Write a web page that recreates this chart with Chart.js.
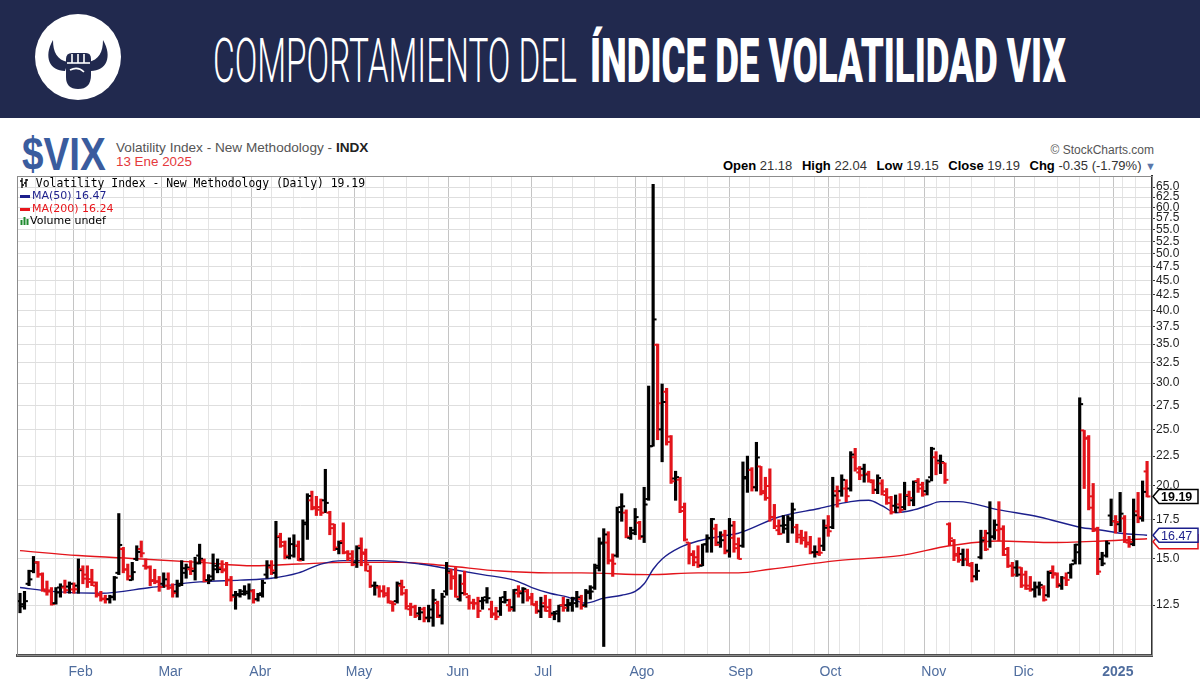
<!DOCTYPE html>
<html>
<head>
<meta charset="utf-8">
<script src="https://cdn.jsdelivr.net/npm/chart.js@4.4.1/dist/chart.umd.min.js"></script>
<style>
  html, body { margin: 0; padding: 0; background: #fff; }
  body { width: 1200px; height: 693px; position: relative; overflow: hidden; font-family: "Liberation Sans", Arial, sans-serif; }
  #banner { position: absolute; left: 0; top: 0; width: 1200px; height: 118px; background: #21294e; }
  #logo { position: absolute; left: 34px; top: 13px; }
  .title { position: absolute; top: 30px; font-family: Roboto, sans-serif; font-size: 62px; line-height: 62px; color: #fff; white-space: nowrap; transform-origin: 0 0; }
  #t1 { left: 213px; font-weight: 300; }
  #t2 { left: 590px; font-weight: 900; }
  #sym { position: absolute; left: 22px; top: 131px; font: bold 46px/46px "Liberation Sans", Arial, sans-serif; color: #3a5c9e; white-space: nowrap; transform-origin: 0 0; }
  #desc { position: absolute; left: 116px; top: 141px; font-size: 13.6px; line-height: 14px; color: #555; white-space: nowrap; }
  #desc b { color: #222; }
  #dt { position: absolute; left: 116px; top: 155px; font-size: 13.4px; line-height: 14px; color: #e5393c; white-space: nowrap; }
  #copy { position: absolute; right: 46px; top: 144px; font-size: 12px; line-height: 12px; color: #555; white-space: nowrap; }
  #ohlc { position: absolute; right: 44px; top: 159px; font-size: 13px; line-height: 13px; color: #333; white-space: nowrap; }
  #ohlc b { color: #000; margin-left: 6px; }
  #ohlc .tri { color: #5a77aa; font-size: 11px; }
  #chartBox { position: absolute; left: 0; top: 170px; width: 1200px; height: 523px; }
  .leg { position: absolute; left: 20px; font-family: "DejaVu Sans", sans-serif; font-size: 11px; line-height: 12px; white-space: nowrap; }
  #leg1 { top: 177px; font-family: "DejaVu Sans Mono", monospace; font-size: 11.4px; color: #000; }
  #leg2 { top: 190px; color: #1c1f8c; }
  #leg3 { top: 203px; color: #e8151b; }
  #leg4 { top: 215px; color: #000; }
  .sw { display: inline-block; width: 10px; height: 3px; vertical-align: middle; margin-right: 2px; }
</style>
</head>
<body>
<div id="banner">
  <svg id="logo" width="88" height="88" viewBox="0 0 88 88">
    <circle cx="44" cy="44" r="43" fill="#fff"/>
    <path d="M31 58 C16 58 9 44 19 27 C19 39 23 47 34 49 Z" fill="#21294e"/>
    <path d="M57 58 C72 58 79 44 69 27 C69 39 65 47 54 49 Z" fill="#21294e"/>
    <path d="M32 46 Q32 40 38 40 L52 40 Q57 40 57 46 L57 62 Q57 76 44 76 Q32 76 32 64 Z" fill="#21294e"/>
    <g stroke="#fff" stroke-width="1.6" fill="none">
      <path d="M38 41 V50 M44 41 V50 M50 41 V50"/>
      <path d="M33 50 H56"/>
      <path d="M36 57 Q44 53 50 59"/>
    </g>
  </svg>
  <div id="t1" class="title">COMPORTAMIENTO DEL</div>
  <div id="t2" class="title">ÍNDICE DE VOLATILIDAD VIX</div>
</div>

<div id="sym">$VIX</div>
<div id="desc">Volatility Index - New Methodology - <b>INDX</b></div>
<div id="dt">13 Ene 2025</div>
<div id="copy">© StockCharts.com</div>
<div id="ohlc"></div>

<div id="chartBox"><canvas id="c" width="1200" height="523"></canvas></div>

<div id="leg1" class="leg"><svg width="9" height="10" style="vertical-align:-1px"><path d="M2 0V10M0 3H2M2 7H4M6 1V9M4 5H6M6 2H8" stroke="#000" stroke-width="1.3" fill="none"/></svg> Volatility Index - New Methodology (Daily) <span id="lastC"></span></div>
<div id="leg2" class="leg"><span class="sw" style="background:#1c1f8c"></span>MA(50) <span id="lastM50"></span></div>
<div id="leg3" class="leg"><span class="sw" style="background:#e8151b"></span>MA(200) <span id="lastM200"></span></div>
<div id="leg4" class="leg"><svg width="10" height="9" style="vertical-align:-1px"><path d="M1.5 9V4M4.5 9V1M7.5 9V3" stroke="#1f8a2e" stroke-width="2" fill="none"/></svg>Volume undef</div>

<script>
// trading days shown
const dates = [
  "2024-01-11","2024-01-12","2024-01-16","2024-01-17","2024-01-18","2024-01-19","2024-01-22","2024-01-23","2024-01-24","2024-01-25","2024-01-26","2024-01-29","2024-01-30","2024-01-31",
  "2024-02-01","2024-02-02","2024-02-05","2024-02-06","2024-02-07","2024-02-08","2024-02-09","2024-02-12","2024-02-13","2024-02-14","2024-02-15","2024-02-16","2024-02-20","2024-02-21","2024-02-22","2024-02-23","2024-02-26","2024-02-27","2024-02-28","2024-02-29",
  "2024-03-01","2024-03-04","2024-03-05","2024-03-06","2024-03-07","2024-03-08","2024-03-11","2024-03-12","2024-03-13","2024-03-14","2024-03-15","2024-03-18","2024-03-19","2024-03-20","2024-03-21","2024-03-22","2024-03-25","2024-03-26","2024-03-27","2024-03-28",
  "2024-04-01","2024-04-02","2024-04-03","2024-04-04","2024-04-05","2024-04-08","2024-04-09","2024-04-10","2024-04-11","2024-04-12","2024-04-15","2024-04-16","2024-04-17","2024-04-18","2024-04-19","2024-04-22","2024-04-23","2024-04-24","2024-04-25","2024-04-26","2024-04-29","2024-04-30",
  "2024-05-01","2024-05-02","2024-05-03","2024-05-06","2024-05-07","2024-05-08","2024-05-09","2024-05-10","2024-05-13","2024-05-14","2024-05-15","2024-05-16","2024-05-17","2024-05-20","2024-05-21","2024-05-22","2024-05-23","2024-05-24","2024-05-28","2024-05-29","2024-05-30","2024-05-31",
  "2024-06-03","2024-06-04","2024-06-05","2024-06-06","2024-06-07","2024-06-10","2024-06-11","2024-06-12","2024-06-13","2024-06-14","2024-06-17","2024-06-18","2024-06-20","2024-06-21","2024-06-24","2024-06-25","2024-06-26","2024-06-27","2024-06-28",
  "2024-07-01","2024-07-02","2024-07-03","2024-07-05","2024-07-08","2024-07-09","2024-07-10","2024-07-11","2024-07-12","2024-07-15","2024-07-16","2024-07-17","2024-07-18","2024-07-19","2024-07-22","2024-07-23","2024-07-24","2024-07-25","2024-07-26","2024-07-29","2024-07-30","2024-07-31",
  "2024-08-01","2024-08-02","2024-08-05","2024-08-06","2024-08-07","2024-08-08","2024-08-09","2024-08-12","2024-08-13","2024-08-14","2024-08-15","2024-08-16","2024-08-19","2024-08-20","2024-08-21","2024-08-22","2024-08-23","2024-08-26","2024-08-27","2024-08-28","2024-08-29","2024-08-30",
  "2024-09-03","2024-09-04","2024-09-05","2024-09-06","2024-09-09","2024-09-10","2024-09-11","2024-09-12","2024-09-13","2024-09-16","2024-09-17","2024-09-18","2024-09-19","2024-09-20","2024-09-23","2024-09-24","2024-09-25","2024-09-26","2024-09-27","2024-09-30",
  "2024-10-01","2024-10-02","2024-10-03","2024-10-04","2024-10-07","2024-10-08","2024-10-09","2024-10-10","2024-10-11","2024-10-14","2024-10-15","2024-10-16","2024-10-17","2024-10-18","2024-10-21","2024-10-22","2024-10-23","2024-10-24","2024-10-25","2024-10-28","2024-10-29","2024-10-30","2024-10-31",
  "2024-11-01","2024-11-04","2024-11-05","2024-11-06","2024-11-07","2024-11-08","2024-11-11","2024-11-12","2024-11-13","2024-11-14","2024-11-15","2024-11-18","2024-11-19","2024-11-20","2024-11-21","2024-11-22","2024-11-25","2024-11-26","2024-11-27","2024-11-29",
  "2024-12-02","2024-12-03","2024-12-04","2024-12-05","2024-12-06","2024-12-09","2024-12-10","2024-12-11","2024-12-12","2024-12-13","2024-12-16","2024-12-17","2024-12-18","2024-12-19","2024-12-20","2024-12-23","2024-12-24","2024-12-26","2024-12-27","2024-12-30","2024-12-31",
  "2025-01-02","2025-01-03","2025-01-06","2025-01-07","2025-01-08","2025-01-10","2025-01-13"
];

const opens = [
  12.70,12.55,13.60,14.30,14.80,14.10,13.20,13.25,12.60,13.40,13.40,13.45,13.30,13.50,
  14.40,14.10,13.70,13.50,13.00,12.80,12.80,12.90,14.20,15.60,14.40,13.80,15.00,15.60,14.60,14.50,13.80,13.70,13.60,13.50,
  13.40,13.20,13.60,14.20,14.40,14.30,15.20,14.90,13.80,14.00,14.60,14.50,14.40,13.80,13.00,13.00,13.20,13.10,13.20,12.80,
  13.10,14.10,14.50,14.20,16.40,15.80,15.10,15.90,15.80,15.00,17.20,18.90,18.30,18.40,18.90,18.00,17.20,15.60,16.10,15.40,15.30,14.80,
  15.80,15.30,14.30,13.50,13.40,13.20,13.10,12.60,12.70,13.50,13.10,12.30,12.40,12.10,12.30,11.90,11.90,12.60,12.00,13.20,14.20,13.90,
  12.80,13.60,12.90,12.60,12.60,12.70,12.90,12.30,12.10,12.20,12.90,12.50,12.40,13.10,13.10,13.20,12.90,12.50,12.20,
  12.60,12.40,12.10,12.20,12.50,12.50,12.60,12.60,12.80,12.50,13.20,13.40,14.60,16.00,16.00,14.90,15.20,18.40,18.00,16.30,16.80,17.30,
  16.40,19.00,23.40,34.90,25.00,29.00,24.30,20.60,20.50,18.40,16.00,15.30,15.10,14.60,15.90,16.30,16.90,16.00,16.50,15.50,16.30,15.90,
  15.80,20.60,21.30,19.90,21.60,19.60,20.00,17.70,16.80,17.10,16.90,17.50,17.00,16.50,16.30,16.00,15.40,15.30,15.80,17.10,
  17.00,19.60,19.60,19.80,19.80,22.40,21.10,21.40,21.00,20.30,19.70,20.20,19.30,18.70,18.50,18.60,18.40,19.30,18.90,20.40,20.10,19.60,20.70,
  22.40,22.10,21.90,17.20,16.10,15.30,15.30,15.00,14.60,14.00,15.10,16.30,16.60,16.40,16.80,16.90,15.60,14.60,14.50,14.50,
  14.10,13.50,13.30,13.40,13.40,13.00,14.30,14.10,13.50,13.90,14.20,14.90,15.40,24.90,24.20,19.20,16.90,15.00,15.20,17.80,17.40,
  17.20,17.60,16.00,15.90,18.10,17.60,21.18
];

const highs = [
  13.10,13.20,14.35,15.15,14.85,14.20,13.75,13.40,13.40,13.60,13.80,13.70,13.65,15.00,
  14.60,14.60,14.40,13.70,13.20,13.00,13.00,14.00,17.94,15.70,14.70,14.80,15.80,16.10,15.00,14.60,14.40,14.00,14.20,14.20,
  13.60,13.80,14.90,14.70,14.90,15.10,15.90,15.00,14.10,15.30,15.00,14.90,14.80,14.00,13.20,13.30,13.50,13.60,13.30,13.10,
  13.80,14.90,14.90,17.40,16.60,16.10,16.30,16.50,16.10,17.50,19.40,19.60,19.20,19.00,21.36,18.10,17.20,16.10,17.30,15.50,15.50,15.80,
  16.30,15.60,14.60,13.70,13.50,13.50,13.40,12.70,13.70,13.80,13.30,12.60,12.50,12.40,12.40,12.50,13.30,12.70,13.10,14.80,14.40,14.50,
  14.10,14.30,13.00,12.80,12.90,12.90,13.40,12.70,12.40,12.90,13.20,12.80,13.30,13.50,13.40,13.30,13.10,12.70,12.90,
  13.00,12.80,12.20,12.50,12.90,12.80,12.90,13.20,13.00,13.30,13.50,14.70,16.30,16.90,16.70,15.30,18.40,19.40,18.20,17.00,18.30,17.40,
  19.90,29.66,65.73,35.00,29.90,29.40,24.40,21.20,20.70,18.70,16.00,15.50,15.80,15.90,16.50,17.60,17.20,16.70,16.80,17.60,17.40,16.30,
  21.99,22.50,21.50,23.76,21.60,20.70,21.40,18.60,17.50,17.80,17.80,18.70,17.20,16.80,16.70,16.40,15.80,16.30,17.50,17.80,
  20.70,20.00,20.90,20.50,22.90,23.20,21.60,21.80,21.20,20.50,20.90,20.50,19.80,19.20,19.30,19.40,20.30,19.60,20.40,20.60,20.30,20.50,23.30,
  22.90,22.60,21.90,17.30,16.20,15.70,15.60,15.60,14.80,14.70,16.80,16.80,18.80,17.50,18.80,17.10,15.70,14.80,14.90,14.50,
  14.30,14.00,13.70,13.70,13.50,14.30,14.60,14.20,14.00,14.20,14.70,15.90,28.32,24.90,24.40,20.20,17.00,15.40,16.10,19.00,17.80,
  19.50,17.80,16.40,19.00,19.50,20.40,22.04
];

const lows = [
  12.13,12.30,13.50,14.20,13.95,13.20,13.00,12.50,12.55,12.90,13.10,13.10,13.10,13.10,
  13.60,13.40,13.50,12.90,12.70,12.60,12.60,12.75,14.10,14.20,13.80,13.80,14.90,15.10,14.40,13.50,13.60,13.20,13.40,13.30,
  12.90,12.90,13.50,13.90,14.10,13.80,14.70,13.70,13.60,13.80,14.20,14.20,13.50,12.70,12.30,12.90,13.00,12.80,12.60,12.70,
  12.90,13.90,14.10,13.90,15.70,15.00,15.00,15.10,14.90,14.90,16.20,18.20,17.80,17.80,18.00,16.50,15.50,15.30,15.30,14.90,14.60,14.50,
  14.60,14.30,13.40,13.00,12.90,12.90,12.60,12.20,12.60,13.00,12.30,12.00,11.90,11.80,11.70,11.70,11.50,11.90,11.60,13.00,13.30,12.90,
  12.70,13.00,12.30,12.30,11.90,12.30,12.60,11.90,11.80,12.00,12.60,12.20,12.20,12.90,12.60,12.70,12.50,12.10,11.90,
  12.20,11.90,11.80,11.70,12.20,12.20,12.20,12.40,12.30,12.40,12.80,13.30,14.30,10.62,14.70,14.00,15.10,17.40,16.30,16.20,16.50,16.20,
  16.00,18.90,23.39,24.00,22.00,23.50,20.20,18.90,18.00,16.10,14.70,14.60,14.50,14.60,15.40,15.40,15.80,15.70,15.30,15.10,15.40,15.00,
  15.70,19.50,19.60,19.60,19.30,18.90,17.40,16.90,16.50,16.60,16.00,16.60,16.00,15.90,15.70,15.30,15.10,15.20,15.50,16.40,
  16.90,18.40,19.20,18.80,19.60,21.20,20.50,20.30,20.30,19.40,19.40,19.30,18.60,17.90,18.00,18.00,18.20,18.50,18.50,19.50,19.20,19.30,20.40,
  20.90,21.00,20.20,15.80,14.90,14.80,14.60,14.60,13.70,13.80,15.00,15.50,15.70,16.20,16.10,15.20,14.50,14.00,14.00,13.40,
  13.30,13.20,12.90,13.00,12.70,12.90,13.90,13.40,13.30,13.50,13.90,14.70,14.70,19.80,18.20,16.70,14.10,14.60,15.10,17.10,16.60,
  16.70,16.00,15.70,15.80,17.30,17.40,19.15
];

const closes = [
  12.44,12.70,13.84,14.79,14.13,13.30,13.19,12.55,13.14,13.45,13.26,13.60,13.31,14.35,
  13.88,13.85,13.67,13.06,12.83,12.79,12.93,13.93,15.85,14.38,14.01,14.24,15.42,15.34,14.54,13.75,13.74,13.43,13.84,13.40,
  13.11,13.49,14.46,14.50,14.44,14.74,15.01,13.75,13.79,14.40,14.41,14.33,13.82,12.92,13.06,13.06,13.19,13.24,12.78,13.01,
  13.65,14.61,14.33,16.35,16.03,15.19,15.20,15.80,14.91,17.31,19.23,18.40,18.21,18.00,18.71,16.94,15.69,15.97,15.37,15.03,14.67,15.65,
  15.39,14.68,13.49,13.49,13.23,13.00,12.69,12.55,13.60,13.42,12.45,12.42,11.99,12.15,11.86,12.29,12.77,11.93,12.92,14.28,14.00,12.92,
  13.11,13.06,12.63,12.58,12.22,12.74,12.85,12.04,11.94,12.66,12.75,12.30,13.28,13.20,13.33,12.84,12.55,12.24,12.44,
  12.22,12.03,12.09,12.48,12.37,12.51,12.85,12.89,12.46,13.12,13.19,14.48,15.93,16.52,14.91,14.72,18.04,18.46,16.39,16.60,17.69,16.36,
  18.59,23.39,38.57,27.71,27.85,23.79,20.37,20.71,18.12,16.19,15.23,14.80,14.65,15.88,16.27,17.55,15.86,16.15,15.43,17.11,15.65,15.00,
  20.72,21.32,19.90,22.38,19.45,19.08,17.69,17.07,16.56,17.14,17.61,18.23,16.33,16.15,15.89,15.39,15.41,15.37,16.96,16.73,
  19.26,18.90,20.49,19.21,22.64,21.42,20.86,20.93,20.46,19.70,20.64,19.58,19.11,18.03,18.37,18.20,19.24,19.08,20.33,19.80,19.34,20.35,23.16,
  21.88,21.98,20.49,16.27,15.20,14.94,14.97,14.71,14.02,14.31,16.14,15.58,16.35,17.16,16.87,15.24,14.60,14.10,14.10,13.51,
  13.34,13.30,13.45,13.54,12.77,14.19,14.18,13.58,13.92,13.81,14.69,15.87,27.62,24.09,18.36,16.78,14.27,14.73,15.95,17.40,17.35,
  17.93,16.13,16.04,17.82,17.70,19.54,19.19
];

// moving averages (bar index, value)
const ma50Idx = [0,7,18,29,40,49,56,62,67,72,80,89,96,103,110,114,118,122,126,130,134,137,139,141,143,147,151,156,160,169,178,185,189,192,195,199,202,205,209,218,227,236,241,245,251];
const ma50Val = [13.4,13.2,13.1,13.4,13.7,13.8,13.9,14.2,14.7,14.9,14.9,14.7,14.4,14.1,13.8,13.4,13.1,12.9,12.6,12.85,13.0,13.2,13.6,14.4,15.0,15.7,16.1,16.4,16.6,17.7,18.3,18.8,18.9,18.5,18.0,18.2,18.5,18.8,18.8,18.2,17.7,17.0,16.8,16.6,16.47];
const ma200Idx = [0,13,27,40,52,62,73,85,95,107,118,125,140,151,160,167,182,196,207,218,229,241,251];
const ma200Val = [15.5,15.2,15.0,14.8,14.6,14.7,14.8,14.8,14.6,14.3,14.2,14.2,14.1,14.2,14.2,14.4,14.9,15.2,15.8,16.1,16.0,16.1,16.24];

const yTicks = [12.5,15,17.5,20,22.5,25,27.5,30,32.5,35,37.5,40,42.5,45,47.5,50,52.5,55,57.5,60,62.5,65];
const monthNames = ["Ene","Feb","Mar","Abr","May","Jun","Jul","Ago","Sep","Oct","Nov","Dic"];

const RED = "#e3141b";
const NAVY = "#1c1f8c";
const last = closes.length - 1;

// header texts sized to the banner
function fitWidth(id, w) {
  const el = document.getElementById(id);
  el.style.transform = "scaleX(" + (w / el.offsetWidth) + ")";
}
fitWidth("t1", 364);
fitWidth("t2", 476);
fitWidth("sym", 84);

const chg = closes[last] - closes[last - 1];
document.getElementById("ohlc").innerHTML =
  "<b>Open</b> " + opens[last].toFixed(2) +
  " <b>High</b> " + highs[last].toFixed(2) +
  " <b>Low</b> " + lows[last].toFixed(2) +
  " <b>Close</b> " + closes[last].toFixed(2) +
  " <b>Chg</b> " + chg.toFixed(2) + " (" + (chg / closes[last - 1] * 100).toFixed(2) + "%) <span class='tri'>▼</span>";
document.getElementById("lastC").textContent = closes[last].toFixed(2);
document.getElementById("lastM50").textContent = ma50Val[ma50Val.length - 1].toFixed(2);
document.getElementById("lastM200").textContent = ma200Val[ma200Val.length - 1].toFixed(2);

// week and month grid lines from the dates
const xLabels = new Map();
const monthTicks = new Set();
const xTickPos = [];
dates.forEach((d, i) => {
  if (i === 0) return;
  const prev = new Date(dates[i - 1] + "T00:00:00Z");
  const cur = new Date(d + "T00:00:00Z");
  const pos = i - 0.5;
  if (cur.getUTCMonth() !== prev.getUTCMonth()) {
    monthTicks.add(pos);
    xLabels.set(pos, cur.getUTCMonth() === 0 ? String(cur.getUTCFullYear()) : monthNames[cur.getUTCMonth()]);
    xTickPos.push(pos);
  } else if (cur.getUTCDay() < prev.getUTCDay()) {
    xTickPos.push(pos);
  }
});

const barColors = closes.map((c, i) => (i > 0 && c < closes[i - 1]) ? RED : "#000");
const idx = dates.map((d, i) => i);

function drawTag(ctx, x, yp, text, stroke, color, weight) {
  ctx.beginPath();
  ctx.moveTo(x, yp);
  ctx.lineTo(x + 6, yp - 7);
  ctx.lineTo(x + 45, yp - 7);
  ctx.lineTo(x + 45, yp + 7);
  ctx.lineTo(x + 6, yp + 7);
  ctx.closePath();
  ctx.fillStyle = "#fff";
  ctx.fill();
  ctx.lineWidth = 1.5;
  ctx.strokeStyle = stroke;
  ctx.stroke();
  if (!text) return;
  ctx.fillStyle = color;
  ctx.font = weight + " 12.5px 'Liberation Sans', Arial, sans-serif";
  ctx.textAlign = "left";
  ctx.textBaseline = "middle";
  ctx.fillText(text, x + 8, yp + 1);
}

const frameAndTags = {
  id: "frameAndTags",
  afterDraw(chart) {
    const { ctx, chartArea: a, scales: { y } } = chart;
    ctx.save();
    ctx.strokeStyle = "#8c8c8c";
    ctx.lineWidth = 1;
    ctx.strokeRect(a.left + 0.5, a.top + 0.5, a.right - a.left, a.bottom - a.top);
    const m200 = ma200Val[ma200Val.length - 1];
    const m50 = ma50Val[ma50Val.length - 1];
    // MA(200) tag sits under the MA(50) tag, only its lower edge shows
    drawTag(ctx, a.right + 1, y.getPixelForValue(m200) + 3, "", RED, RED, "normal");
    drawTag(ctx, a.right + 1, y.getPixelForValue(m50), m50.toFixed(2), NAVY, NAVY, "normal");
    drawTag(ctx, a.right + 1, y.getPixelForValue(closes[last]), closes[last].toFixed(2), "#000", "#000", "bold");
    ctx.restore();
  }
};

new Chart(document.getElementById("c"), {
  type: "bar",
  data: {
    datasets: [
      {
        type: "line",
        label: "MA(200)",
        data: ma200Idx.map((x, k) => ({ x: x, y: ma200Val[k] })),
        borderColor: RED,
        borderWidth: 1.4,
        pointRadius: 0,
        cubicInterpolationMode: "monotone",
        order: 5,
      },
      {
        type: "line",
        label: "MA(50)",
        data: ma50Idx.map((x, k) => ({ x: x, y: ma50Val[k] })),
        borderColor: NAVY,
        borderWidth: 1.4,
        pointRadius: 0,
        cubicInterpolationMode: "monotone",
        order: 4,
      },
      {
        label: "VIX",
        data: idx.map(i => ({ x: i, y: [lows[i], highs[i]] })),
        backgroundColor: barColors,
        barThickness: 2.5,
        order: 2,
      },
      {
        type: "line",
        label: "Open",
        data: idx.map(i => ({ x: i - 0.38, y: opens[i] })),
        showLine: false,
        pointStyle: "line",
        pointRadius: 1.7,
        pointBorderWidth: 2,
        pointBorderColor: barColors,
        order: 1,
      },
      {
        type: "line",
        label: "Close",
        data: idx.map(i => ({ x: i + 0.38, y: closes[i] })),
        showLine: false,
        pointStyle: "line",
        pointRadius: 1.7,
        pointBorderWidth: 2,
        pointBorderColor: barColors,
        order: 1,
      },
    ],
  },
  options: {
    animation: false,
    responsive: false,
    maintainAspectRatio: false,
    layout: { padding: { left: 17, top: 4, right: 0, bottom: 0 } },
    plugins: { legend: { display: false }, tooltip: { enabled: false } },
    scales: {
      x: {
        type: "linear",
        min: -0.67,
        max: 252.1,
        offset: false,
        afterBuildTicks: s => { s.ticks = xTickPos.map(v => ({ value: v })); },
        afterFit: s => { s.height = 38; s.paddingLeft = 0; s.paddingRight = 0; },
        grid: {
          color: c => (c.tick && monthTicks.has(c.tick.value)) ? "#c4c4c4" : "#e4e4e4",
          drawTicks: false,
        },
        border: { color: "#4d4d4d", width: 3 },
        ticks: {
          autoSkip: false,
          maxRotation: 0,
          padding: 9,
          color: "#4f6d9e",
          font: c => ({ family: "'Liberation Sans', Arial, sans-serif", size: 14, weight: (c.tick && xLabels.get(c.tick.value) === "2025") ? "bold" : "normal" }),
          callback: v => xLabels.get(v) || "",
        },
      },
      y: {
        type: "logarithmic",
        position: "right",
        min: 10.27,
        max: 67.9,
        afterBuildTicks: s => { s.ticks = yTicks.map(v => ({ value: v })); },
        afterFit: s => { s.width = 48; s.paddingTop = 0; s.paddingBottom = 0; },
        grid: { color: "#dedede", tickLength: 3, tickColor: "#333" },
        border: { color: "#333", width: 2 },
        ticks: {
          autoSkip: false,
          padding: 1,
          color: "#222",
          font: { family: "'Liberation Sans', Arial, sans-serif", size: 12 },
          callback: v => Number(v).toFixed(1),
        },
      },
    },
  },
  plugins: [frameAndTags],
});
</script>
</body>
</html>
